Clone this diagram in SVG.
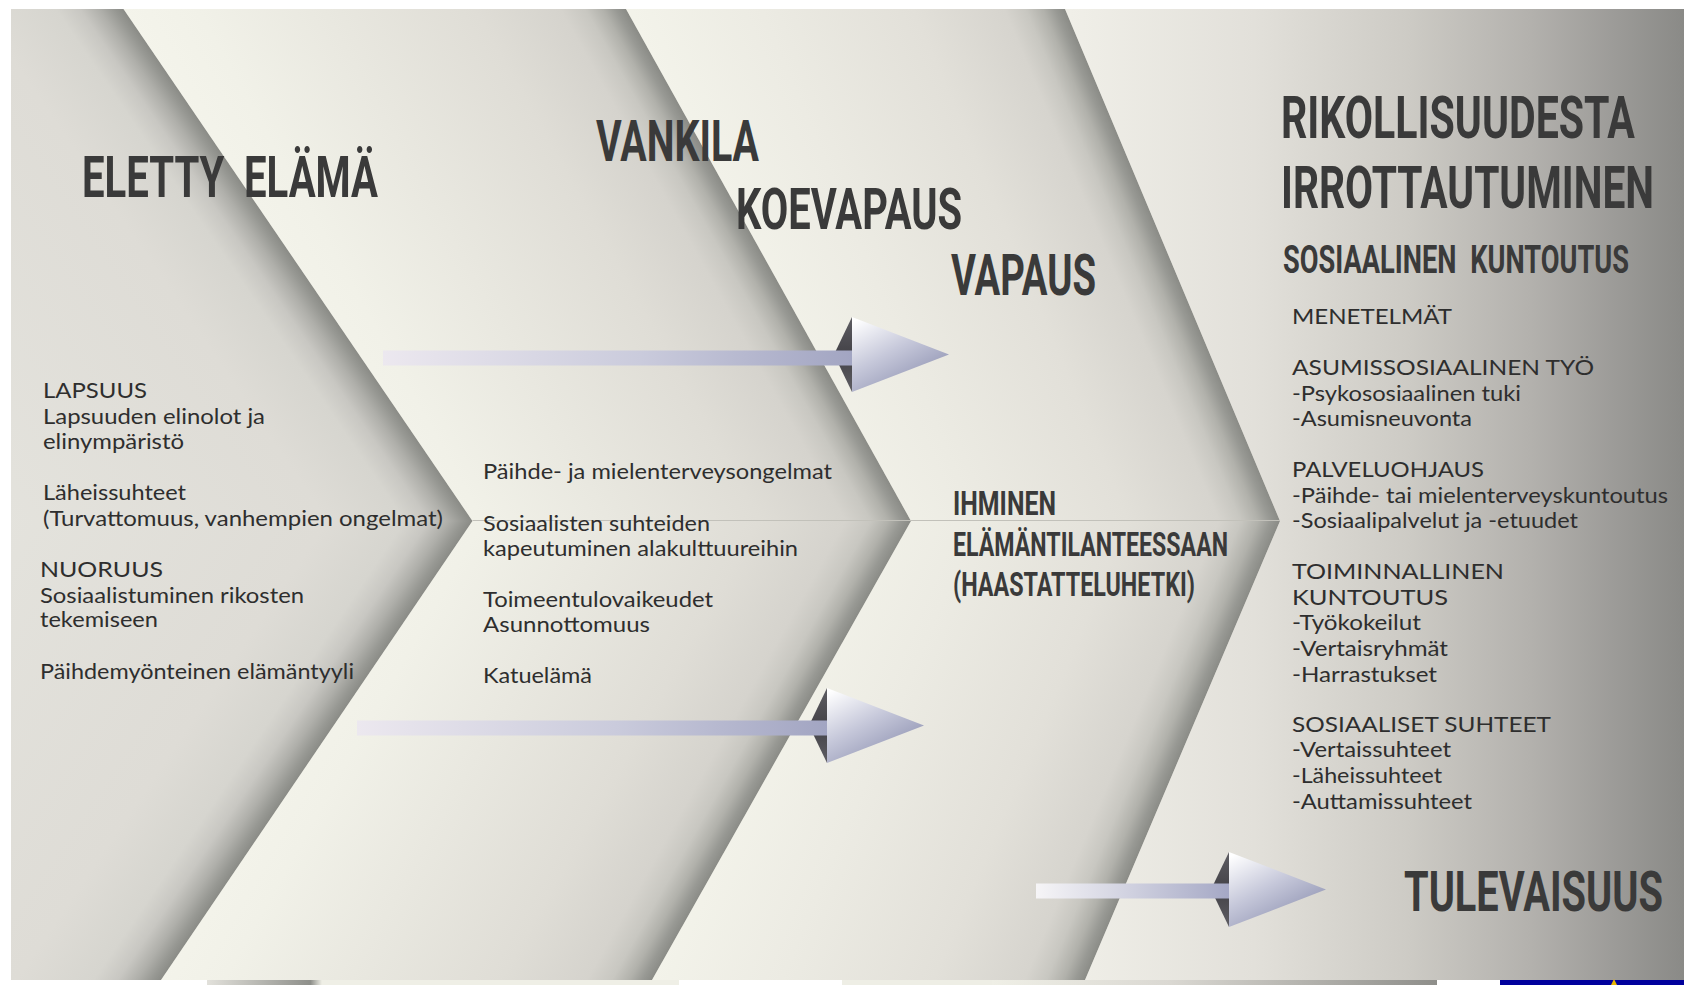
<svg xmlns="http://www.w3.org/2000/svg" width="1684" height="985" viewBox="0 0 1684 985">
<defs>
<style>
.hd{font-family:Roboto,"Liberation Sans",sans-serif;font-weight:bold;fill:#3a3a3a}
.bd{font-family:Lato,"Open Sans","Liberation Sans",sans-serif;font-size:21px;fill:#2e2e2e}
</style>
<linearGradient id="g1u" gradientUnits="userSpaceOnUse" x1="472.5" y1="521" x2="142" y2="746.3">
<stop offset="0" stop-color="#8a8b86"/><stop offset="0.02" stop-color="#979893"/><stop offset="0.05" stop-color="#afafaa"/><stop offset="0.09" stop-color="#c8c7c2"/><stop offset="0.14" stop-color="#d6d5cf"/><stop offset="0.3" stop-color="#dedcd6"/><stop offset="1" stop-color="#e4e3dd"/>
</linearGradient>
<linearGradient id="g1l" href="#g1u" gradientUnits="userSpaceOnUse" x1="472.5" y1="521" x2="141.5" y2="296.5"/>
<linearGradient id="g2u" gradientUnits="userSpaceOnUse" x1="911" y1="521" x2="526.6" y2="735.2">
<stop offset="0" stop-color="#8a8b86"/><stop offset="0.02" stop-color="#989994"/><stop offset="0.045" stop-color="#b1b1ab"/><stop offset="0.08" stop-color="#c8c7c1"/><stop offset="0.13" stop-color="#d5d3cd"/><stop offset="0.3" stop-color="#dfddd6"/><stop offset="0.6" stop-color="#e9e8e0"/><stop offset="0.85" stop-color="#f1f1e8"/><stop offset="1" stop-color="#f4f4eb"/>
</linearGradient>
<linearGradient id="g2l" href="#g2u" gradientUnits="userSpaceOnUse" x1="911" y1="521" x2="527.8" y2="305"/>
<linearGradient id="g3u" gradientUnits="userSpaceOnUse" x1="1280" y1="521" x2="911.2" y2="676">
<stop offset="0" stop-color="#8a8b86"/><stop offset="0.022" stop-color="#989994"/><stop offset="0.05" stop-color="#b1b1ab"/><stop offset="0.09" stop-color="#c8c7c1"/><stop offset="0.14" stop-color="#d6d4ce"/><stop offset="0.35" stop-color="#e2e0d9"/><stop offset="0.7" stop-color="#ecebe3"/><stop offset="1" stop-color="#f3f3ea"/>
</linearGradient>
<linearGradient id="g3l" href="#g3u" gradientUnits="userSpaceOnUse" x1="1280" y1="521" x2="911.8" y2="364.8"/>
<linearGradient id="g4" gradientUnits="userSpaceOnUse" x1="1070" y1="0" x2="1684" y2="0">
<stop offset="0" stop-color="#f0efe8"/><stop offset="0.3" stop-color="#e2e0da"/><stop offset="0.55" stop-color="#cdcbc5"/><stop offset="0.75" stop-color="#b3b1ad"/><stop offset="0.9" stop-color="#9a9996"/><stop offset="1" stop-color="#8a8a87"/>
</linearGradient>
<linearGradient id="shaft" x1="0" y1="0" x2="1" y2="0">
<stop offset="0" stop-color="#ece8ef"/><stop offset="0.55" stop-color="#cacbdc"/><stop offset="1" stop-color="#a2a5c2"/>
</linearGradient>
<linearGradient id="shaft3" x1="0" y1="0" x2="1" y2="0">
<stop offset="0" stop-color="#f6f5f7"/><stop offset="0.5" stop-color="#cfd0df"/><stop offset="1" stop-color="#a5a8c5"/>
</linearGradient>
<linearGradient id="headG" x1="0.1" y1="0" x2="0.8" y2="1">
<stop offset="0" stop-color="#ffffff"/><stop offset="0.45" stop-color="#c6c8da"/><stop offset="1" stop-color="#868aab"/>
</linearGradient>
<linearGradient id="backG" x1="0" y1="0" x2="0" y2="1">
<stop offset="0" stop-color="#5e5d63"/><stop offset="0.5" stop-color="#434247"/><stop offset="1" stop-color="#5e5d63"/>
</linearGradient>
<linearGradient id="strip1" x1="0" y1="0" x2="1" y2="0">
<stop offset="0" stop-color="#e2e1db"/><stop offset="0.9" stop-color="#8e8f8a"/><stop offset="1" stop-color="#efefe6"/>
</linearGradient>
<linearGradient id="strip2" x1="0" y1="0" x2="1" y2="0">
<stop offset="0" stop-color="#efefe6"/><stop offset="0.4" stop-color="#dad8d2"/><stop offset="1" stop-color="#8e8e8a"/>
</linearGradient>
<polygon id="back" points="0,-37.5 -18,0 0,37.5" fill="url(#backG)"/>
<polygon id="head" points="0,-37.5 97,0 0,37.5" fill="url(#headG)"/>
</defs>

<rect width="1684" height="985" fill="#ffffff"/>

<g id="background">
<rect x="11" y="9" width="1673" height="971" fill="#b4b4ae"/>
<polygon points="11,9 123.5,9 472.5,521 11,521" fill="url(#g1u)"/>
<polygon points="11,521 472.5,521 161,980 11,980" fill="url(#g1l)"/>
<polygon points="123.5,9 626,9 911,521 472.5,521" fill="url(#g2u)"/>
<polygon points="472.5,521 911,521 652,980 161,980" fill="url(#g2l)"/>
<polygon points="626,9 1065,9 1280,521 911,521" fill="url(#g3u)"/>
<polygon points="911,521 1280,521 1085,980 652,980" fill="url(#g3l)"/>
<polygon points="1065,9 1684,9 1684,980 1085,980 1280,521" fill="url(#g4)"/>
<line x1="472.5" y1="520.5" x2="1280" y2="520.5" stroke="#c2c1ba" stroke-width="1"/>
<rect x="207" y="980" width="115" height="5" fill="url(#strip1)"/>
<rect x="322" y="980" width="357" height="5" fill="#efefe6"/>
<rect x="842" y="980" width="150" height="5" fill="#eeeee5"/>
<rect x="992" y="980" width="445" height="5" fill="url(#strip2)"/>
<rect x="1500" y="980" width="184" height="5" fill="#00009c"/>
<path d="M1611,985 L1614,979 L1617,985Z" fill="#e8b400"/>
</g>

<g id="node-eletty-elama">
<text class="hd" transform="matrix(0.7 0 0 1 82 197)" x="0" y="0" font-size="58" word-spacing="14" textLength="422.9" lengthAdjust="spacingAndGlyphs">ELETTY ELÄMÄ</text>
<text class="bd" x="43" y="398" textLength="104" lengthAdjust="spacingAndGlyphs">LAPSUUS</text>
<text class="bd" x="43" y="424" textLength="222" lengthAdjust="spacingAndGlyphs">Lapsuuden elinolot ja</text>
<text class="bd" x="43" y="449" textLength="141" lengthAdjust="spacingAndGlyphs">elinympäristö</text>
<text class="bd" x="43" y="500" textLength="143" lengthAdjust="spacingAndGlyphs">Läheissuhteet</text>
<text class="bd" x="43" y="526" textLength="400" lengthAdjust="spacingAndGlyphs">(Turvattomuus, vanhempien ongelmat)</text>
<text class="bd" x="40" y="577" textLength="123" lengthAdjust="spacingAndGlyphs">NUORUUS</text>
<text class="bd" x="40" y="602.5" textLength="264" lengthAdjust="spacingAndGlyphs">Sosiaalistuminen rikosten</text>
<text class="bd" x="40" y="627" textLength="118" lengthAdjust="spacingAndGlyphs">tekemiseen</text>
<text class="bd" x="40" y="679" textLength="314" lengthAdjust="spacingAndGlyphs">Päihdemyönteinen elämäntyyli</text>
</g>

<g id="node-vankila">
<text class="hd" transform="matrix(0.68 0 0 1 596 161)" x="0" y="0" font-size="58" textLength="239.7" lengthAdjust="spacingAndGlyphs">VANKILA</text>
<text class="hd" transform="matrix(0.68 0 0 1 736 229)" x="0" y="0" font-size="58" textLength="332.4" lengthAdjust="spacingAndGlyphs">KOEVAPAUS</text>
<text class="hd" transform="matrix(0.65 0 0 1 951 295)" x="0" y="0" font-size="58" textLength="223.1" lengthAdjust="spacingAndGlyphs">VAPAUS</text>
<text class="bd" x="483" y="479" textLength="349" lengthAdjust="spacingAndGlyphs">Päihde- ja mielenterveysongelmat</text>
<text class="bd" x="483" y="530.5" textLength="227" lengthAdjust="spacingAndGlyphs">Sosiaalisten suhteiden</text>
<text class="bd" x="483" y="556" textLength="315" lengthAdjust="spacingAndGlyphs">kapeutuminen alakulttuureihin</text>
<text class="bd" x="483" y="607" textLength="230" lengthAdjust="spacingAndGlyphs">Toimeentulovaikeudet</text>
<text class="bd" x="483" y="631.5" textLength="167" lengthAdjust="spacingAndGlyphs">Asunnottomuus</text>
<text class="bd" x="483" y="683" textLength="109" lengthAdjust="spacingAndGlyphs">Katuelämä</text>
</g>

<g id="node-ihminen">
<text class="hd" transform="matrix(0.76 0 0 1 953 515)" x="0" y="0" font-size="33" textLength="135.5" lengthAdjust="spacingAndGlyphs">IHMINEN</text>
<text class="hd" transform="matrix(0.7 0 0 1 953 556)" x="0" y="0" font-size="33" textLength="392.9" lengthAdjust="spacingAndGlyphs">ELÄMÄNTILANTEESSAAN</text>
<text class="hd" transform="matrix(0.7 0 0 1 953 596)" x="0" y="0" font-size="33" textLength="345.7" lengthAdjust="spacingAndGlyphs">(HAASTATTELUHETKI)</text>
</g>

<g id="node-rikollisuudesta">
<text class="hd" transform="matrix(0.69 0 0 1 1281 137.5)" x="0" y="0" font-size="60" textLength="513" lengthAdjust="spacingAndGlyphs">RIKOLLISUUDESTA</text>
<text class="hd" transform="matrix(0.68 0 0 1 1281 208)" x="0" y="0" font-size="60" textLength="548.5" lengthAdjust="spacingAndGlyphs">IRROTTAUTUMINEN</text>
<text class="hd" transform="matrix(0.7 0 0 1 1283 273)" x="0" y="0" font-size="39" word-spacing="10" textLength="494.3" lengthAdjust="spacingAndGlyphs">SOSIAALINEN KUNTOUTUS</text>
<text class="bd" x="1292" y="324" textLength="160" lengthAdjust="spacingAndGlyphs">MENETELMÄT</text>
<text class="bd" x="1292" y="375" textLength="302" lengthAdjust="spacingAndGlyphs">ASUMISSOSIAALINEN TYÖ</text>
<text class="bd" x="1292" y="400.5" textLength="229" lengthAdjust="spacingAndGlyphs">-Psykososiaalinen tuki</text>
<text class="bd" x="1292" y="426" textLength="180" lengthAdjust="spacingAndGlyphs">-Asumisneuvonta</text>
<text class="bd" x="1292" y="477" textLength="192" lengthAdjust="spacingAndGlyphs">PALVELUOHJAUS</text>
<text class="bd" x="1292" y="502.5" textLength="376" lengthAdjust="spacingAndGlyphs">-Päihde- tai mielenterveyskuntoutus</text>
<text class="bd" x="1292" y="528" textLength="286" lengthAdjust="spacingAndGlyphs">-Sosiaalipalvelut ja -etuudet</text>
<text class="bd" x="1292" y="579" textLength="212" lengthAdjust="spacingAndGlyphs">TOIMINNALLINEN</text>
<text class="bd" x="1292" y="604.5" textLength="156" lengthAdjust="spacingAndGlyphs">KUNTOUTUS</text>
<text class="bd" x="1292" y="630" textLength="129" lengthAdjust="spacingAndGlyphs">-Työkokeilut</text>
<text class="bd" x="1292" y="656" textLength="156" lengthAdjust="spacingAndGlyphs">-Vertaisryhmät</text>
<text class="bd" x="1292" y="682" textLength="145" lengthAdjust="spacingAndGlyphs">-Harrastukset</text>
<text class="bd" x="1292" y="731.5" textLength="259" lengthAdjust="spacingAndGlyphs">SOSIAALISET SUHTEET</text>
<text class="bd" x="1292" y="757" textLength="159" lengthAdjust="spacingAndGlyphs">-Vertaissuhteet</text>
<text class="bd" x="1292" y="783" textLength="150" lengthAdjust="spacingAndGlyphs">-Läheissuhteet</text>
<text class="bd" x="1292" y="809" textLength="180" lengthAdjust="spacingAndGlyphs">-Auttamissuhteet</text>
</g>

<g id="node-tulevaisuus">
<text class="hd" transform="matrix(0.715 0 0 1 1404 911)" x="0" y="0" font-size="56" textLength="362.2" lengthAdjust="spacingAndGlyphs">TULEVAISUUS</text>
</g>

<g id="connectors">
<g id="arrow-1">
<use href="#back" transform="translate(852,354.5)"/>
<rect x="383" y="350.5" width="469" height="15" fill="url(#shaft)"/>
<use href="#head" transform="translate(852,354.5)"/>
</g>
<g id="arrow-2">
<use href="#back" transform="translate(827,725.5)"/>
<rect x="357" y="720.5" width="470" height="15" fill="url(#shaft)"/>
<use href="#head" transform="translate(827,725.5)"/>
</g>
<g id="arrow-3">
<use href="#back" transform="translate(1229,889.5)"/>
<rect x="1036" y="883.5" width="193" height="15" fill="url(#shaft3)"/>
<use href="#head" transform="translate(1229,889.5)"/>
</g>
</g>
</svg>
